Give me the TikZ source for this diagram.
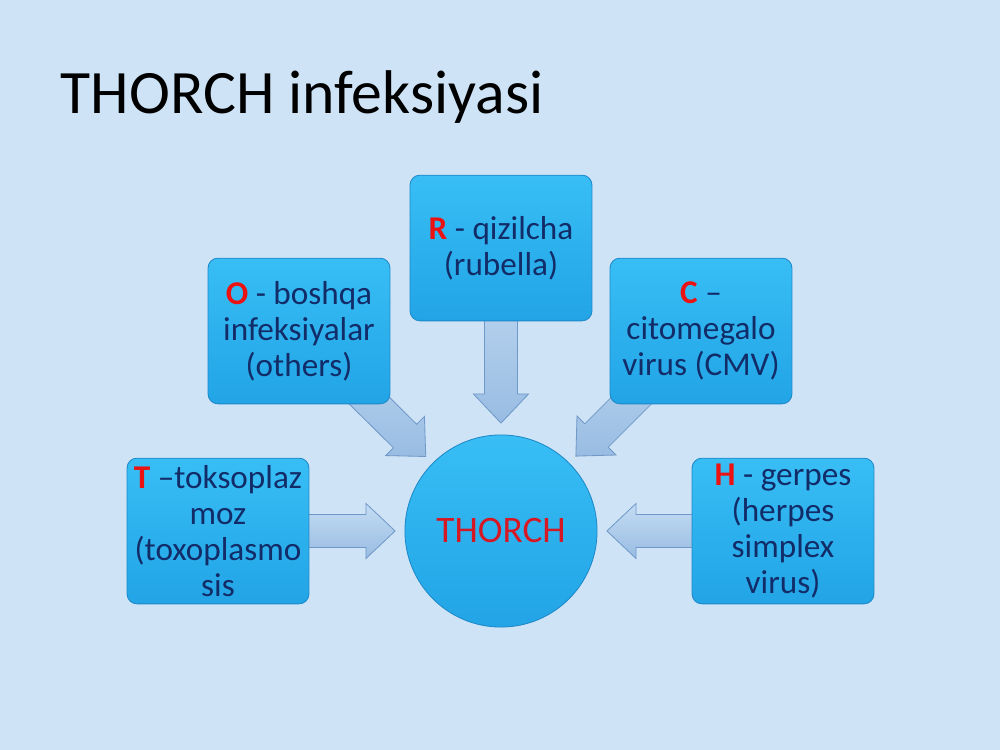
\documentclass[tikz,border=0pt]{standalone}
\usepackage{fontspec}
\setmainfont{Carlito}
\usetikzlibrary{calc}
\definecolor{bgblue}{RGB}{206,228,246}
\definecolor{boxtop}{RGB}{56,190,245}
\definecolor{boxbot}{RGB}{34,164,230}
\definecolor{boxedge}{RGB}{30,136,200}
\definecolor{navy}{RGB}{18,44,104}
\definecolor{keyred}{RGB}{236,18,18}
\definecolor{hubred}{RGB}{214,24,36}
\definecolor{arrtop}{RGB}{196,220,243}
\definecolor{arrbot}{RGB}{152,188,226}
\definecolor{arredge}{RGB}{112,152,200}
\pgfdeclarelayer{back}
\pgfdeclarelayer{arrows}
\pgfsetlayers{back,arrows,main}
\tikzset{
  box/.style={rectangle, rounded corners=2.5mm, minimum width=46.2mm, minimum height=37mm,
    top color=boxtop, bottom color=boxbot, draw=boxedge, line width=0.6pt,
    text=navy, align=center, inner sep=0pt, font=\fontsize{24}{26}\selectfont},
  hub/.style={circle, minimum size=48.8mm, top color=boxtop, bottom color=boxbot,
    draw=boxedge, line width=0.6pt, text=hubred, font=\fontsize{27}{30}\selectfont},
  bigarr/.style={top color=arrtop, bottom color=arrbot, draw=arredge, line width=0.6pt}
}
\newcommand\key[1]{\textcolor{keyred}{\textbf{#1}}}
\newcommand\bigarrow[2]{%
  \coordinate (ah) at ($(#2)!7.4mm!(#1)$);
  \draw[bigarr] ($(#1)!4.2mm!90:(#2)$) -- ($(ah)!4.2mm!90:(#2)$) -- ($(ah)!7mm!90:(#2)$)
    -- (#2) -- ($(ah)!7mm!-90:(#2)$) -- ($(ah)!4.2mm!-90:(#2)$) -- ($(#1)!4.2mm!-90:(#2)$) -- cycle;}
\begin{document}
\begin{tikzpicture}[x=0.254mm, y=-0.254mm]
			%%%%% START %%%%%
			\begin{pgfonlayer}{back}
			\fill[bgblue] (0, 0) rectangle (1000, 750);
			\end{pgfonlayer}
			
			\node[anchor=base west, font=\fontsize{44.6}{50}\selectfont] (title) at (56, 113) {THORCH infeksiyasi};
			
			\node[hub] (thorch) at (501, 531) {THORCH};
			
			\node[box] (T) at (218, 531) {\key{T} --toksoplaz\\moz\\(toxoplasmo\\sis};
			\node[box] (O) at (299, 331) {\key{O} - boshqa\\infeksiyalar\\(others)};
			\node[box] (R) at (501, 248) {\key{R} - qizilcha\\(rubella)};
			\node[box] (C) at (701, 331) {\key{C} --\\citomegalo\\virus (CMV)};
			\node[box] (H) at (783, 531) {\key{H} - gerpes\\(herpes\\simplex\\virus)};
			
			\coordinate (tipT) at ($(thorch.center)!26.9mm!(T.center)$);
			\coordinate (tipO) at ($(thorch.center)!26.9mm!(O.center)$);
			\coordinate (tipR) at ($(thorch.center)!27.4mm!(R.center)$);
			\coordinate (tipC) at ($(thorch.center)!26.9mm!(C.center)$);
			\coordinate (tipH) at ($(thorch.center)!26.9mm!(H.center)$);
			
			\begin{pgfonlayer}{arrows}
			\bigarrow{T.center}{tipT}
			\bigarrow{O.center}{tipO}
			\bigarrow{R.center}{tipR}
			\bigarrow{C.center}{tipC}
			\bigarrow{H.center}{tipH}
			\end{pgfonlayer}
			%%%%% END %%%%%
\end{tikzpicture}
\end{document}
